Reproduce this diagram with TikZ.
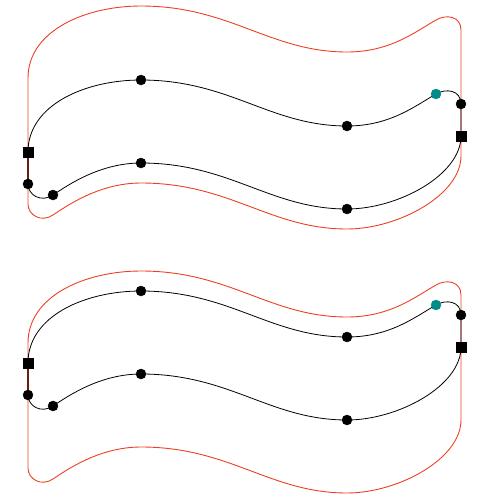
\documentclass[tikz,border=0pt]{standalone}
\definecolor{contorno}{RGB}{236,64,36}
\definecolor{verdeazul}{RGB}{0,139,139}
\begin{document}
\begin{tikzpicture}[x=1pt,y=-1pt,
    curva/.style={line width=0.8pt},
    borde/.style={contorno,line width=0.9pt},
    union/.style={black!55!contorno,line width=1.6pt}]
  \useasboundingbox (0,0) rectangle (486,499);

  % Dos bandas: desplazamiento vertical, margen superior e inferior del contorno
  \foreach \dy/\arr/\abj in {0/74/20, 211/20/73} {
    % Puntos de la banda negra
    \coordinate (sqL) at (28,152+\dy);
    \coordinate (dotL) at (28,184+\dy);
    \coordinate (dotLb) at (53,195+\dy);
    \coordinate (topA) at (141,80+\dy);
    \coordinate (topB) at (347,126+\dy);
    \coordinate (teal) at (436,94+\dy);
    \coordinate (dotR) at (461,104+\dy);
    \coordinate (sqR) at (461,136+\dy);
    \coordinate (botA) at (141,163+\dy);
    \coordinate (botB) at (347,209+\dy);

    % Contorno rojo (borde superior subido, borde inferior bajado)
    \draw[borde] ([yshift=\arr pt]sqL)
      .. controls +(0,-47) and +(-56,0) .. ([yshift=\arr pt]topA)
      .. controls +(89,0) and +(-77,0) .. ([yshift=\arr pt]topB)
      .. controls +(43,0) and +(-21,12) .. ([yshift=\arr pt]teal)
      .. controls +(10,-6) and +(0,-14) .. ([yshift=\arr pt]dotR)
      -- ([yshift=-\abj pt]sqR)
      .. controls +(0,39) and +(51,0) .. ([yshift=-\abj pt]botB)
      .. controls +(-77,0) and +(89,0) .. ([yshift=-\abj pt]botA)
      .. controls +(-41,0) and +(15,-10) .. ([yshift=-\abj pt]dotLb)
      .. controls +(-12,8) and +(0,11) .. ([yshift=-\abj pt]dotL)
      -- cycle;

    % Banda negra
    \draw[curva] (sqL)
      .. controls +(0,-47) and +(-56,0) .. (topA)
      .. controls +(89,0) and +(-77,0) .. (topB)
      .. controls +(43,0) and +(-21,12) .. (teal)
      .. controls +(10,-6) and +(0,-14) .. (dotR)
      -- (sqR)
      .. controls +(0,39) and +(51,0) .. (botB)
      .. controls +(-77,0) and +(89,0) .. (botA)
      .. controls +(-41,0) and +(15,-10) .. (dotLb)
      .. controls +(-12,8) and +(0,11) .. (dotL);
    \draw[union] (dotL) -- (sqL);

    % Marcas
    \foreach \p in {dotL,dotLb,topA,topB,dotR,botA,botB}
      \filldraw (\p) circle (5pt);
    \filldraw[verdeazul] (teal) circle (5pt);
    \fill ([shift={(-5.5pt,-5.5pt)}]sqL) rectangle +(11pt,11pt);
    \fill ([shift={(-5.5pt,-5.5pt)}]sqR) rectangle +(11pt,11pt);
  }
\end{tikzpicture}
\end{document}
